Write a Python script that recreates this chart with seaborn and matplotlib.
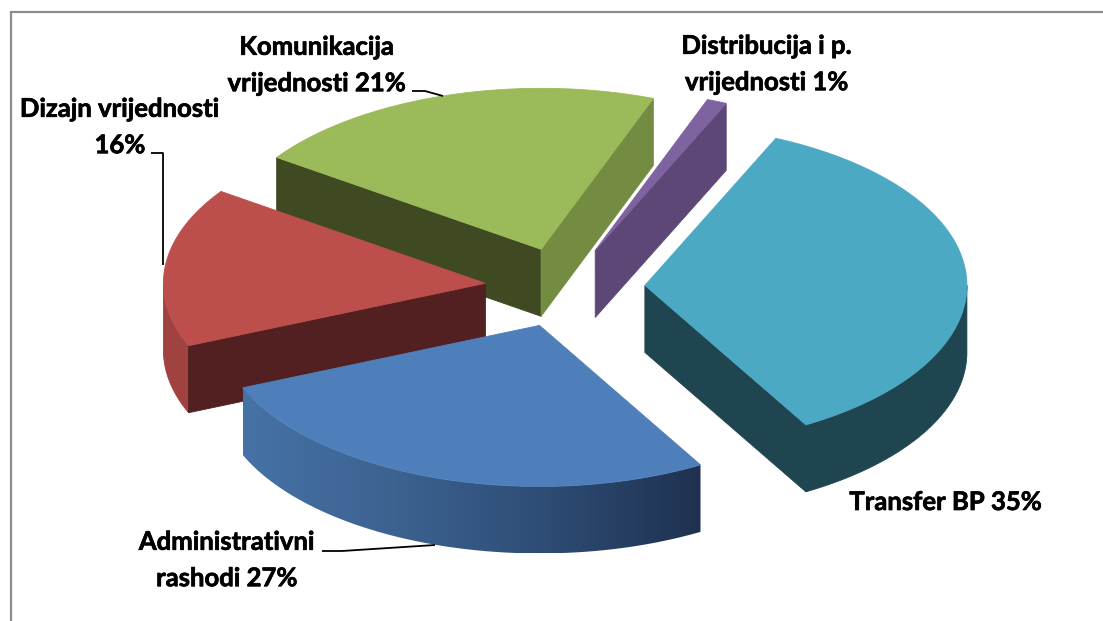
import numpy as np
import seaborn as sns
import matplotlib
matplotlib.use("Agg")
import matplotlib.pyplot as plt
import matplotlib.patheffects as pe

# slices, clockwise starting from the top right
labels = ["Transfer BP 35%", "Administrativni\nrashodi 27%", "Dizajn vrijednosti\n16%",
          "Komunikacija\nvrijednosti 21%", "Distribucija i p.\nvrijednosti 1%"]
values = [35, 27, 16, 21, 1]
top_colors = ["#4BA9C3", "#4F7FBB", "#BC4F4C", "#9BBA59", "#7F63A1"]
outer_colors = ["#1F4550", None, "#A04340", "#748C42", "#5C4776"]
start_wall_colors = ["#1F4550", "#1F3150", "#522020", "#3F4A22", "#5C4776"]
end_wall_colors = ["#1F4550", "#1F3150", "#522020", "#748C42", "#5C4776"]
blue_wall_colors = ["#4672A6", "#3C6290", "#2E4C74", "#1F3150"]

# back to front
draw_order = [3, 4, 2, 0, 1]

label_pos = [(946, 502), (227, 560), (120, 127), (317, 65), (767, 64)]
leaders = [
    ([151, 163, 163], [153, 153, 265]),
    ([412, 425, 443], [91, 91, 96]),
    ([322, 342, 435], [551, 551, 545]),
]

CX, CY = 565, 287.5
RX, RY = 322, 161
EXPLODE = 80
DEPTH = 67
START = 66

sns.set_theme(style="white")
plt.rcParams["font.family"] = ["Lato", "DejaVu Sans"]

fig, ax = plt.subplots(figsize=(11.03, 6.21), dpi=100)
ax.set_position([0, 0, 1, 1])
ax.axis("off")


def arc(x0, y0, a1, a2, n=120):
    t = np.radians(np.linspace(a1, a2, n))
    return x0 + RX * np.cos(t), y0 - RY * np.sin(t)


def face(xs, ys, color, z):
    return ax.fill(xs, ys, facecolor=color, edgecolor=color, linewidth=0.6, zorder=z)[0]


def radial_wall(x0, y0, angle, color, z):
    x = x0 + RX * np.cos(np.radians(angle))
    y = y0 - RY * np.sin(np.radians(angle))
    face([x0, x, x, x0], [y0, y, y + DEPTH, y0 + DEPTH], color, z)


def outer_wall(x0, y0, a1, a2, color, z):
    xs, ys = arc(x0, y0, a1, a2)
    face(np.r_[xs, xs[::-1]], np.r_[ys, ys[::-1] + DEPTH], color, z)


def gradient_wall(x0, y0, a1, a2, colors, z):
    # rim shaded left to right, painted as an image clipped to the rim shape
    xs, ys = arc(x0, y0, a1, a2)
    rim = ax.fill(np.r_[xs, xs[::-1]], np.r_[ys, ys[::-1] + DEPTH], facecolor="none",
                  edgecolor="none", zorder=z)[0]
    cmap = sns.blend_palette(colors, as_cmap=True)
    img = ax.imshow(np.linspace(0, 1, 256)[None, :], cmap=cmap, aspect="auto", zorder=z,
                    extent=(xs.min(), xs.max(), ys.max() + DEPTH, ys.min()))
    img.set_clip_path(rim)


ends = START - np.cumsum(values) * 3.6
starts = np.r_[START, ends[:-1]]

for z, i in enumerate(draw_order):
    a1, a2 = starts[i], ends[i]
    mid = np.radians((a1 + a2) / 2)
    x0 = CX + EXPLODE * np.cos(mid)
    y0 = CY - EXPLODE * RY / RX * np.sin(mid)
    z = z * 10

    # only the part of the rim facing the viewer (lower half of the ellipse)
    lo, hi = max(a2, -180), min(a1, 0)
    if outer_colors[i] is None:
        gradient_wall(x0, y0, lo, hi, blue_wall_colors, z)
    elif lo < hi:
        outer_wall(x0, y0, hi, lo, outer_colors[i], z)

    if np.cos(np.radians(a1)) < 0:
        radial_wall(x0, y0, a1, start_wall_colors[i], z + 1)
    if np.cos(np.radians(a2)) > 0:
        radial_wall(x0, y0, a2, end_wall_colors[i], z + 1)

    xs, ys = arc(x0, y0, a1, a2)
    face(np.r_[x0, xs], np.r_[y0, ys], top_colors[i], z + 2)

for (lx, ly) in leaders:
    ax.plot(lx, ly, color="black", lw=1.3, zorder=80, solid_capstyle="butt")

for text, (tx, ty) in zip(labels, label_pos):
    ax.text(tx, ty, text, ha="center", va="center", fontsize=18.5, fontweight="bold",
            color="black", linespacing=1.62, zorder=90,
            path_effects=[pe.withStroke(linewidth=0.5, foreground="black")])

# chart frame, cut off on the right and bottom
ax.plot([11, 11, 1103], [621, 12, 12], color="#8C8C8C", lw=1.6, zorder=95, solid_joinstyle="miter")

ax.set_xlim(0, 1103)
ax.set_ylim(621, 0)

fig.savefig("out.png", dpi=100, facecolor="white")
